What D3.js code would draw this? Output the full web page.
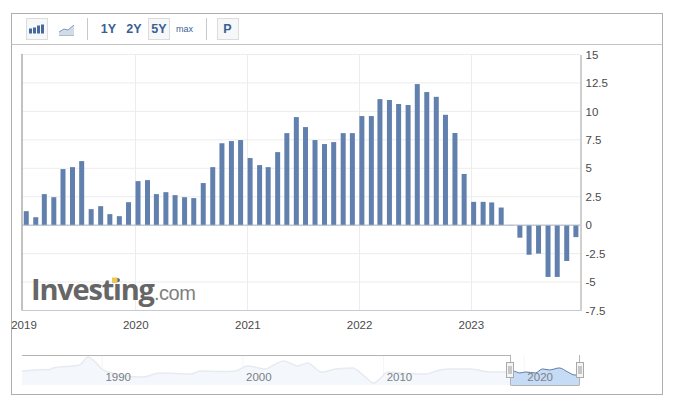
<!DOCTYPE html>
<html>
<head>
<meta charset="utf-8">
<title>Chart</title>
<script src="https://cdnjs.cloudflare.com/ajax/libs/d3/7.8.5/d3.min.js"></script>
<style>
  html, body { margin: 0; padding: 0; background: #fff; }
  svg { display: block; font-family: "Liberation Sans", Arial, sans-serif; }
  .tick text { font-size: 11.5px; fill: #4a4a4a; }
  .nav-label { font-size: 11.5px; fill: #7b7f86; text-anchor: middle; }
  .btn { font-weight: bold; fill: #3a5f94; text-anchor: middle; }
  .btn-small { fill: #3a5f94; text-anchor: middle; font-size: 9px; }
</style>
</head>
<body>
<svg id="chart" width="673" height="409"></svg>
<script>
// monthly values, jan 2019 - dec 2023
var values2019 = [1.23, 0.7, 2.73, 2.46, 4.93, 5.1, 5.63, 1.41, 1.67, 0.97, 0.79, 2.02];
var values2020 = [3.87, 3.96, 2.73, 2.9, 2.64, 2.46, 2.38, 3.7, 5.1, 7.2, 7.39, 7.48];
var values2021 = [5.9, 5.28, 5.1, 6.42, 8.09, 9.5, 8.62, 7.48, 7.13, 7.3, 8.09, 8.09];
var values2022 = [9.59, 9.59, 11.08, 11.0, 10.65, 10.56, 12.4, 11.7, 11.28, 9.7, 8.1, 4.5];
var values2023 = [2.05, 2.05, 2.0, 1.55, 0.02, -1.1, -2.6, -2.5, -4.55, -4.55, -3.15, -1.05];
var years = [2019, 2020, 2021, 2022, 2023];
var yTicks = [15, 12.5, 10, 7.5, 5, 2.5, 0, -2.5, -5, -7.5];

// overview strip at the bottom
var navYears = [1984.3, 1985.2, 1986.3, 1986.5, 1988.4, 1989, 1989.5, 1989.9, 1990.4, 1992.9, 1994.1, 1996.3, 1997, 1998.4, 1999.5, 2000.3, 2001.6, 2002.2, 2002.9, 2003.9, 2004.6, 2005.6, 2006.6, 2007.8, 2008.7, 2009.3, 2009.8, 2010.3, 2011.2, 2013, 2014, 2014.7, 2016.2, 2017.6, 2018.6, 2019.2, 2019.7, 2020.1, 2020.8, 2021.3, 2021.8, 2022.5, 2023.1, 2023.6, 2023.9];
var navValues = [4.7, 7, 8, 11.6, 18.6, 37, 25.6, 11.6, 2.3, -9.3, 0, -2.3, 4.7, 3.5, 4.7, 16.3, 9.3, 18.6, 27.9, 16.3, 23.3, 2.3, 9.3, 11.6, -9.3, -23.3, -11.6, 2.3, 0, -2.3, 7, 9.3, 9.3, 2.3, 2.3, 4.7, 0, 2.3, 0, 9.3, 7, 11.6, 2.3, -4.7, -4.7];
var navTicks = [1990, 2000, 2010, 2020];
var rangeButtons = ["1Y", "2Y", "5Y"];

var allValues = values2019.concat(values2020, values2021, values2022, values2023);
var monthly = allValues.map(function(v, i){
  return { date: new Date(Date.UTC(2019, i, 10)), value: v };
});

var svg = d3.select("#chart");

var x = d3.scaleUtc()
  .domain([new Date(Date.UTC(2019, 0, 1)), new Date(Date.UTC(2023, 11, 25))])
  .range([23.5, 580.5]);
var y = d3.scaleLinear().domain([-7.5, 15]).range([310.5, 54.5]);

// outer frame and toolbar
svg.append("rect").attr("x", 11.5).attr("y", 13.5).attr("width", 651).attr("height", 381)
  .attr("fill", "#fff").attr("stroke", "#aeaeae");
svg.append("line").attr("x1", 11.5).attr("x2", 662.5).attr("y1", 44.5).attr("y2", 44.5).attr("stroke", "#c4c4c4");

var toolbar = svg.append("g");
[[26.5, 21], [148.5, 21], [217.5, 21]].forEach(function(b){
  toolbar.append("rect").attr("x", b[0]).attr("y", 18.5).attr("width", b[1]).attr("height", 21)
    .attr("fill", "#f6f7f8").attr("stroke", "#dcdcdc");
});
[87.5, 206.5].forEach(function(sx){
  toolbar.append("line").attr("x1", sx).attr("x2", sx).attr("y1", 18).attr("y2", 40).attr("stroke", "#c8c8c8");
});

// bar icon
[[29, 5], [33, 6], [37, 8], [41, 9]].forEach(function(b){
  toolbar.append("rect").attr("x", b[0]).attr("y", 33.5 - b[1]).attr("width", 3).attr("height", b[1]).attr("fill", "#46689a");
});
// line icon
toolbar.append("path").attr("d", "M59 32L64 29L68 30L74 25L74 35L59 35Z").attr("fill", "#d3dbe8");
toolbar.append("path").attr("d", "M59 32L64 29L68 30L74 25").attr("fill", "none").attr("stroke", "#7f97bb");
toolbar.append("line").attr("x1", 59).attr("x2", 74).attr("y1", 35.5).attr("y2", 35.5).attr("stroke", "#aebcd2");

rangeButtons.forEach(function(label, i){
  toolbar.append("text").attr("class", "btn").attr("x", [108.5, 134, 159][i]).attr("y", 33)
    .attr("font-size", 12.5).text(label);
});
toolbar.append("text").attr("class", "btn-small").attr("x", 184.5).attr("y", 32).text("max");
toolbar.append("text").attr("class", "btn").attr("x", 227.5).attr("y", 33).attr("font-size", 12.5).text("P");

// gridlines
svg.append("g").selectAll("line").data(yTicks).enter().append("line")
  .attr("x1", 22).attr("x2", 580)
  .attr("y1", function(d){ return y(d); }).attr("y2", function(d){ return y(d); })
  .attr("stroke", "#ececec");
svg.append("g").selectAll("line").data(years.slice(1)).enter().append("line")
  .attr("x1", function(d){ return Math.round(x(new Date(Date.UTC(d, 0, 1)))) + 0.5; })
  .attr("x2", function(d){ return Math.round(x(new Date(Date.UTC(d, 0, 1)))) + 0.5; })
  .attr("y1", 54).attr("y2", 310)
  .attr("stroke", "#ececec");

// logo sits under the bars
var logo = svg.append("g");
logo.append("text").attr("x", 31).attr("y", 300).attr("font-size", 29).attr("font-weight", "bold")
  .attr("font-family", "'Open Sans', sans-serif")
  .attr("letter-spacing", -1.2)
  .attr("fill", "#666").text("Investing");
logo.append("rect").attr("x", 112).attr("y", 277.5).attr("width", 5.5).attr("height", 5.5).attr("fill", "#f0c654");
logo.append("text").attr("x", 154).attr("y", 300).attr("font-size", 20)
  .attr("letter-spacing", -0.5)
  .attr("fill", "#808080").text(".com");

// bars
svg.append("g").selectAll("rect").data(monthly).enter().append("rect")
  .attr("x", function(d){ return x(d.date) - 2.5; })
  .attr("width", 5)
  .attr("y", function(d){ return Math.min(y(d.value), y(0)); })
  .attr("height", function(d){ return Math.abs(y(d.value) - y(0)); })
  .attr("fill", "#6180ae");

// axes
var yAxis = d3.axisRight(y).tickValues(yTicks).tickSize(0).tickPadding(5)
  .tickFormat(function(d){ return String(d); });
var yG = svg.append("g").attr("transform", "translate(580.5,0)").call(yAxis);
yG.select(".domain").attr("stroke", "#a0a0a0");

svg.append("line").attr("x1", 22).attr("x2", 22).attr("y1", 54).attr("y2", 310.5).attr("stroke", "#a8a8a8").attr("stroke-width", 1.4);
svg.append("line").attr("x1", 22).attr("x2", 580).attr("y1", 310.5).attr("y2", 310.5).attr("stroke", "#c3cad4");
svg.append("line").attr("x1", 22).attr("x2", 580).attr("y1", y(0)).attr("y2", y(0)).attr("stroke", "#a9b5c6");

var xAxis = d3.axisBottom(x)
  .tickValues(years.map(function(d){ return new Date(Date.UTC(d, 0, 1)); }))
  .tickFormat(d3.utcFormat("%Y"))
  .tickSize(0).tickPadding(10);
var xG = svg.append("g").attr("transform", "translate(0,310.5)").call(xAxis);
xG.select(".domain").remove();

// overview strip
var navX = d3.scaleLinear().domain([1984.3, 2023.9]).range([22, 579]);
var navY = d3.scaleLinear().domain([-27.9, 37]).range([385, 357]);
var navData = navYears.map(function(yr, i){ return { year: yr, value: navValues[i] }; });
var area = d3.area().x(function(d){ return navX(d.year); }).y0(385)
  .y1(function(d){ return navY(d.value); }).curve(d3.curveMonotoneX);
var line = d3.line().x(function(d){ return navX(d.year); })
  .y(function(d){ return navY(d.value); }).curve(d3.curveMonotoneX);

var defs = svg.append("defs");
defs.append("clipPath").attr("id", "navOff").append("rect").attr("x", 22).attr("y", 340).attr("width", 488).attr("height", 50);
defs.append("clipPath").attr("id", "navOn").append("rect").attr("x", 510).attr("y", 340).attr("width", 69).attr("height", 50);

var nav = svg.append("g");
nav.selectAll("line").data(navTicks).enter().append("line")
  .attr("x1", function(d){ return navX(d); }).attr("x2", function(d){ return navX(d); })
  .attr("y1", 355).attr("y2", 385).attr("stroke", "#f5f5f5");
nav.append("path").datum(navData).attr("d", area).attr("fill", "#f4f7fb").attr("clip-path", "url(#navOff)");
nav.append("path").datum(navData).attr("d", line).attr("fill", "none").attr("stroke", "#e6ebf2").attr("stroke-width", 1.5).attr("clip-path", "url(#navOff)");
nav.append("path").datum(navData).attr("d", area).attr("fill", "#c6dcf6").attr("clip-path", "url(#navOn)");
nav.append("path").datum(navData).attr("d", line).attr("fill", "none").attr("stroke", "#5c7ba8").attr("stroke-width", 1).attr("clip-path", "url(#navOn)");

nav.append("line").attr("x1", 22).attr("x2", 510.5).attr("y1", 355.5).attr("y2", 355.5).attr("stroke", "#b4b4b4");
nav.append("line").attr("x1", 579.5).attr("x2", 579.5).attr("y1", 355).attr("y2", 385).attr("stroke", "#b4b4b4");
nav.append("line").attr("x1", 510.5).attr("x2", 510.5).attr("y1", 355).attr("y2", 385).attr("stroke", "#b4b4b4");
nav.append("line").attr("x1", 510.5).attr("x2", 579.5).attr("y1", 385.5).attr("y2", 385.5).attr("stroke", "#b4b4b4");

nav.selectAll("text").data(navTicks).enter().append("text")
  .attr("class", "nav-label")
  .attr("x", function(d){ return navX(d) + 16; })
  .attr("y", 381)
  .text(function(d){ return d; });

[506.5, 576.5].forEach(function(hx){
  var h = nav.append("g");
  h.append("rect").attr("x", hx).attr("y", 362.5).attr("width", 7).attr("height", 15).attr("fill", "#f4f4f4").attr("stroke", "#a9a9a9");
  h.append("line").attr("x1", hx + 2.5).attr("x2", hx + 2.5).attr("y1", 366).attr("y2", 374).attr("stroke", "#999");
  h.append("line").attr("x1", hx + 4.5).attr("x2", hx + 4.5).attr("y1", 366).attr("y2", 374).attr("stroke", "#999");
});
</script>
</body>
</html>
